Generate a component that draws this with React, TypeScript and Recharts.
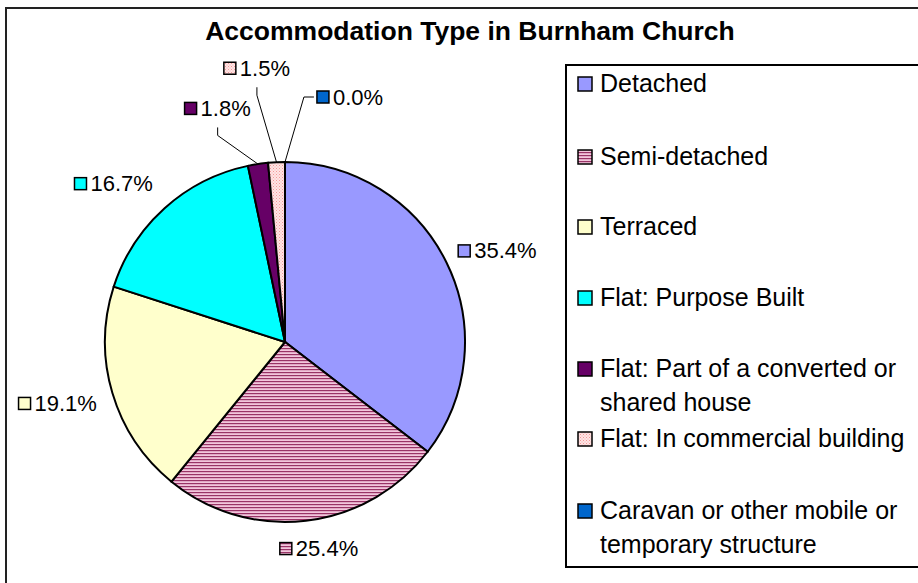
import React from 'react';
import { PieChart, Pie, Cell, Legend } from 'recharts';

const categories = [
  'Detached',
  'Semi-detached',
  'Terraced',
  'Flat: Purpose Built',
  'Flat: Part of a converted or shared house',
  'Flat: In commercial building',
  'Caravan or other mobile or temporary structure',
];
const shares = [35.4, 25.4, 19.1, 16.7, 1.8, 1.5, 0.0];
const fills = ['#9999FF', 'url(#semiStripes)', '#FFFFCC', '#00FFFF', '#660066', 'url(#pinkDots)', '#0066CC'];

const data = categories.map((name, i) => ({ name, value: shares[i] }));

const FONT = '"Liberation Sans", Arial, sans-serif';
const RAD = Math.PI / 180;

// labels that were dragged away from their slice (with leader lines)
const labelNudge = [[-4, 3], [6, -5], [4, 1], [-10, 0], [-32, -23], [-17, -61], [65, -32]];
// first-line centre of each legend entry, page y
const legendRows = [83, 156, 226, 297, 368, 438, 510];

const textWidth = (s: string, size: number) =>
  s.split('').reduce((w, ch) => w + (ch === '.' ? 0.278 : ch === '%' ? 0.889 : 0.556), 0) * size;

const renderLabel = (props: any) => {
  const { cx, cy, midAngle, outerRadius, index, value } = props;
  const text = `${Number(value).toFixed(1)}%`;
  const cos = Math.cos(-midAngle * RAD);
  const sin = Math.sin(-midAngle * RAD);
  const r = outerRadius + 22;
  const w = 16 + textWidth(text, 22);
  const h = 22;
  const [nx, ny] = labelNudge[index];
  const bx = cx + r * cos + (w / 2) * cos + nx;
  const by = cy + r * sin + (h / 2) * sin + ny;
  const left = bx - w / 2;
  const bottom = by + h / 2;

  let leader = null;
  if (index >= 4) {
    const ex = cx + outerRadius * cos;
    const ey = cy + outerRadius * sin;
    const d = ex < left - 15
      ? `M${ex},${ey}L${left - 13},${by}L${left - 3},${by}`
      : `M${ex},${ey}L${bx},${bottom + 16}L${bx},${bottom + 8}`;
    leader = <path d={d} stroke="#000" strokeWidth={1} fill="none" />;
  }

  return (
    <g key={`lbl-${index}`}>
      {leader}
      <rect x={left} y={by - 6} width={12} height={12} fill={fills[index]} stroke="#000" strokeWidth={1.5} />
      <text x={left + 16} y={by} dominantBaseline="central" fontSize={22} fontFamily={FONT} fill="#000">
        {text}
      </text>
    </g>
  );
};

const renderLegend = () => (
  <div
    style={{
      position: 'relative',
      width: 353,
      height: 504,
      borderTop: '2px solid #000',
      borderLeft: '2px solid #000',
      borderBottom: '2px solid #000',
      borderRight: '0px none transparent',
      boxSizing: 'border-box',
      background: '#fff',
      fontFamily: FONT,
      fontSize: 25,
      color: '#000',
      overflow: 'hidden',
    }}
  >
    {categories.map((name, i) => (
      <div key={name} style={{ position: 'absolute', left: 10, top: legendRows[i] - 17 - 66, display: 'flex' }}>
        <svg width={17} height={17} style={{ marginTop: 10, marginRight: 6, flex: 'none' }}>
          <rect x={1} y={1} width={14} height={14} fill={fills[i]} stroke="#000" strokeWidth={1.5} />
        </svg>
        <div style={{ width: 330, lineHeight: '34px' }}>{name}</div>
      </div>
    ))}
  </div>
);

export default function App() {
  return (
    <div style={{ position: 'fixed', left: 0, top: 0, width: 918, height: 583, overflow: 'hidden', background: '#fff' }}>
      <svg width={0} height={0} style={{ position: 'absolute' }}>
        <defs>
          <pattern id="semiStripes" width={4} height={3} patternUnits="userSpaceOnUse">
            <rect width={4} height={3} fill="#F2C6DC" />
            <rect width={4} height={1.2} fill="#993366" />
          </pattern>
          <pattern id="pinkDots" width={3} height={3} patternUnits="userSpaceOnUse">
            <rect width={3} height={3} fill="#FFE4E4" />
            <rect width={1} height={1} fill="#F29A9A" />
            <rect x={1.5} y={1.5} width={1} height={1} fill="#F5B0B0" />
          </pattern>
        </defs>
      </svg>
      <div
        style={{
          position: 'absolute',
          left: 5,
          top: 7,
          width: 1000,
          height: 700,
          borderTop: '2px solid #222',
          borderLeft: '2px solid #222',
          boxSizing: 'border-box',
        }}
      />
      <div
        style={{
          position: 'absolute',
          left: 0,
          top: 17,
          width: 940,
          textAlign: 'center',
          fontFamily: FONT,
          fontWeight: 'bold',
          fontSize: 26.5,
          lineHeight: '29px',
          color: '#000',
        }}
      >
        Accommodation Type in Burnham Church
      </div>
      <div style={{ position: 'absolute', left: 0, top: 0 }}>
        <PieChart width={918} height={583} margin={{ top: 0, right: 0, bottom: 0, left: 0 }}>
          <Pie
            data={data}
            dataKey="value"
            nameKey="name"
            cx={285}
            cy={342}
            outerRadius={180}
            startAngle={90}
            endAngle={-270}
            stroke="#000"
            strokeWidth={2}
            label={renderLabel}
            labelLine={false}
            isAnimationActive={false}
          >
            {data.map((d, i) => (
              <Cell key={d.name} fill={fills[i]} />
            ))}
          </Pie>
          <Legend
            layout="vertical"
            align="right"
            verticalAlign="top"
            content={renderLegend}
            wrapperStyle={{ left: 565, top: 64, width: 353, height: 504 }}
          />
        </PieChart>
      </div>
    </div>
  );
}
